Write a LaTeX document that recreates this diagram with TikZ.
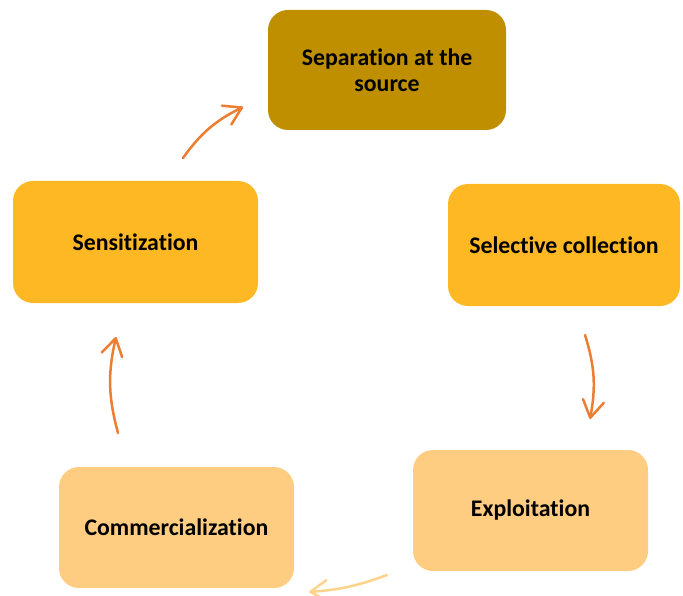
\documentclass[tikz,border=0pt]{standalone}
\usepackage{fontspec}
\setmainfont{Carlito}[Ligatures=NoCommon]
\usetikzlibrary{arrows.meta}
\definecolor{darkgold}{HTML}{BF8F00}
\definecolor{midgold}{HTML}{FDB823}
\definecolor{lightgold}{HTML}{FECD82}
\definecolor{arrorange}{HTML}{ED7D31}
\definecolor{arrlight}{HTML}{FFD38C}
\tikzset{
  stepbox/.style={rectangle, rounded corners=20pt, inner sep=0pt, align=center,
    font=\fontsize{23.8}{26}\selectfont\bfseries, text=black},
  cyc/.style={line width=2.5pt, line cap=round, draw=arrorange,
    -{Straight Barb[length=17pt,width=21pt,line width=2.5pt,round]}},
}
\begin{document}
\begin{tikzpicture}[x=1pt,y=-1pt]
\useasboundingbox (0,0) rectangle (683,596);
\node[stepbox, fill=darkgold, minimum width=238pt, minimum height=120pt] (sep) at (387,70) {Separation at the\\source};
\node[stepbox, fill=midgold, minimum width=245pt, minimum height=122pt] (sens) at (135.5,242) {Sensitization};
\node[stepbox, fill=midgold, minimum width=232pt, minimum height=122pt] (sel) at (564,245) {Selective collection};
\node[stepbox, fill=lightgold, minimum width=235pt, minimum height=121pt] (expl) at (530.5,510.5) {Exploitation};
\node[stepbox, fill=lightgold, minimum width=235pt, minimum height=121pt] (comm) at (176.5,527.5) {Commercialization};
\coordinate (a1s) at (183,158);
\coordinate (a1e) at (243,107);
\coordinate (a2s) at (585,335);
\coordinate (a2e) at (590,419);
\coordinate (a3s) at (387,575);
\coordinate (a3e) at (309,592);
\coordinate (a4s) at (118,433);
\coordinate (a4e) at (116,337);
\draw[cyc] (a1s) to[bend left=14] (a1e);
\draw[cyc] (a2s) to[bend left=14] (a2e);
\draw[cyc, draw=arrlight] (a3s) to[bend left=8] (a3e);
\draw[cyc] (a4s) to[bend left=14] (a4e);
\end{tikzpicture}
\end{document}
